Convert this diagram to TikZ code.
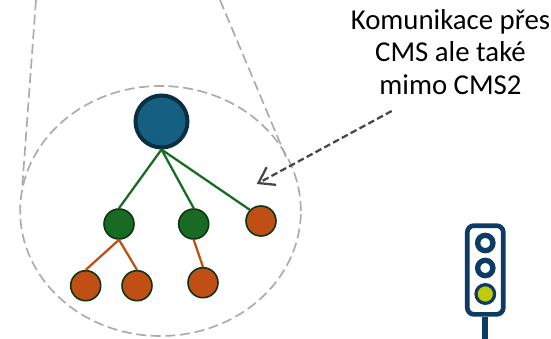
\documentclass[tikz,border=0pt]{standalone}
\usepackage{fontspec}
\setmainfont{Carlito}
\usetikzlibrary{shapes.geometric, arrows.meta}
\definecolor{rootblue}{HTML}{156082}
\definecolor{rootedge}{HTML}{0B2F40}
\definecolor{leafgreen}{HTML}{196B24}
\definecolor{leaforange}{HTML}{C04F15}
\definecolor{nodeedge}{HTML}{0E3512}
\definecolor{signalblue}{HTML}{0E3A66}
\definecolor{signallime}{HTML}{BFCB0A}
\tikzset{
    rootnode/.style = {circle, draw=rootedge, fill=rootblue, line width=3pt, minimum size=39pt, inner sep=0pt},
    greennode/.style = {circle, draw=nodeedge, fill=leafgreen, line width=1.2pt, minimum size=22.5pt, inner sep=0pt},
    orangenode/.style = {circle, draw=nodeedge, fill=leaforange, line width=1.2pt, minimum size=22.5pt, inner sep=0pt},
    greenline/.style = {draw=leafgreen, line width=1.7pt},
    orangeline/.style = {draw=leaforange, line width=1.7pt},
    zoomline/.style = {draw=black!33, line width=1.25pt, dash pattern=on 7.5pt off 3.5pt},
    pointer/.style = {draw=black!72, line width=1.7pt, dash pattern=on 5pt off 2.5pt, -{Straight Barb[length=11pt, width=15pt, line width=1.7pt]}},
    lamp/.style = {circle, draw=signalblue, fill=white, line width=4pt, minimum size=11.5pt, inner sep=0pt},
}
\begin{document}
\begin{tikzpicture}[x=0.75pt, y=-0.75pt]
    \useasboundingbox (0,0) rectangle (551,339);
    % zoom circle
    \node[ellipse, zoomline, minimum width=210.5pt, minimum height=187.5pt, inner sep=0pt] (zoomarea) at (160.5,211) {};
    \coordinate (leftTop) at (36,0);
    \coordinate (leftEnd) at (22,190);
    \coordinate (rightTop) at (220,0);
    \coordinate (rightEnd) at (286,157);
    \draw[zoomline] (leftTop) -- (leftEnd);
    \draw[zoomline] (rightTop) -- (rightEnd);
    % tree
    \node[rootnode] (root) at (161.5,121.5) {};
    \node[greennode] (groupA) at (119,224) {};
    \node[greennode] (groupB) at (193.7,224) {};
    \node[orangenode] (leafC) at (261,221) {};
    \node[orangenode] (leafA) at (85.7,285.7) {};
    \node[orangenode] (leafB) at (137,285.7) {};
    \node[orangenode] (leafD) at (203,282.7) {};
    \draw[greenline] (root.south) -- (groupA.north);
    \draw[greenline] (root.south) -- (groupB.north);
    \draw[greenline] (root.south) -- (leafC.north west);
    \draw[orangeline] (groupA.south) -- (leafA.north);
    \draw[orangeline] (groupA.south) -- (leafB.north);
    \draw[orangeline] (groupB.south) -- (leafD.north);
    % label
    \node[align=center, font=\fontsize{21.6}{24.4}\selectfont, inner sep=0pt] (label) at (450.5,52) {Komunikace přes\\CMS ale také\\mimo CMS2};
    \coordinate (pointerStart) at (391.7,111);
    \coordinate (pointerEnd) at (256.7,184);
    \draw[pointer] (pointerStart) -- (pointerEnd);
    % signal
    \node[rectangle, rounded corners=5pt, draw=signalblue, line width=3.5pt, minimum width=27pt, minimum height=66.5pt, inner sep=0pt] (signal) at (485.3,270) {};
    \node[lamp] (lampTop) at (485.3,243) {};
    \node[lamp] (lampMid) at (485.3,268) {};
    \node[lamp, fill=signallime, line width=2.4pt, minimum size=14pt] (lampLow) at (485.3,294) {};
    \coordinate (poleEnd) at (485.3,339);
    \draw[signalblue, line width=4.5pt] (signal.south) -- (poleEnd);
\end{tikzpicture}
\end{document}
